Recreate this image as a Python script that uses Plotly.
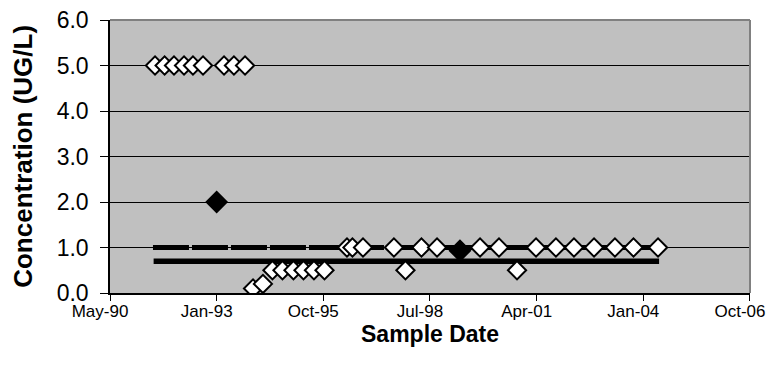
import plotly.graph_objects as go

# Non-detect / reported results (white diamonds)
white_dates = [
    "1991-07-03", "1991-10-01", "1991-12-28", "1992-03-31", "1992-06-23", "1992-09-25",
    "1993-04-10", "1993-07-12", "1993-10-24",
    "1994-01-07", "1994-04-10",
    "1994-07-08", "1994-10-10", "1995-01-21", "1995-04-25", "1995-08-01", "1995-11-08",
    "1996-06-06", "1996-07-27", "1996-11-03", "1997-08-20", "1997-12-06",
    "1998-05-05", "1998-09-28", "1999-11-05", "2000-05-01", "2000-10-17",
    "2001-04-13", "2001-10-17", "2002-04-04", "2002-10-09", "2003-04-23", "2003-10-14",
    "2004-05-31",
]
white_values = [
    5.0, 5.0, 5.0, 5.0, 5.0, 5.0,
    5.0, 5.0, 5.0,
    0.1, 0.2,
    0.5, 0.5, 0.5, 0.5, 0.5, 0.5,
    1.0, 1.0, 1.0, 1.0, 0.5,
    1.0, 1.0, 1.0, 1.0, 0.5,
    1.0, 1.0, 1.0, 1.0, 1.0, 1.0,
    1.0,
]

# Detections (black diamonds)
black_dates = ["1993-01-31", "1999-05-01"]
black_values = [2.0, 0.93]

# Reference lines
dashed_dates = ["1991-06-14", "2004-05-31"]
dashed_values = [1.0, 1.0]
solid_dates = ["1991-06-20", "2004-06-10"]
solid_values = [0.7, 0.7]

x_tick0 = "1990-05-07"
x_range = ["1990-05-07", "2006-10-10 06:00"]
day_ms = 86400000

fig = go.Figure()
fig.add_trace(go.Scatter(x=solid_dates, y=solid_values, mode="lines",
                         line=dict(color="black", width=5.5), showlegend=False))
fig.add_trace(go.Scatter(x=dashed_dates, y=dashed_values, mode="lines",
                         line=dict(color="black", width=5, dash="36px,3px"), showlegend=False))
fig.add_trace(go.Scatter(x=black_dates, y=black_values, mode="markers",
                         marker=dict(symbol="diamond", size=16, color="black",
                                     line=dict(color="black", width=1.5)), showlegend=False))
fig.add_trace(go.Scatter(x=white_dates, y=white_values, mode="markers",
                         marker=dict(symbol="diamond", size=14, color="white",
                                     line=dict(color="black", width=2)), showlegend=False))

fig.update_layout(
    width=780, height=377,
    margin=dict(l=110, r=30, t=20, b=84),
    paper_bgcolor="white", plot_bgcolor="#C0C0C0",
    font=dict(family="Liberation Sans, Arial, sans-serif", color="black"),
    showlegend=False,
)
fig.update_xaxes(
    type="date", range=x_range, tick0=x_tick0, dtick=1000 * day_ms,
    tickformat="%b-%y", showgrid=False, zeroline=False, automargin=False,
    showline=True, linecolor="black", linewidth=1.5,
    ticks="outside", ticklen=6, tickcolor="black",
    ticklabelstandoff=-4, ticklabelshift=-10, ticklabeloverflow="allow",
    tickfont=dict(size=17),
)
fig.update_yaxes(
    range=[0, 6], dtick=1, tickformat=".1f", automargin=False,
    showgrid=True, gridcolor="black", gridwidth=1, zeroline=False,
    showline=True, linecolor="black", linewidth=1.5,
    ticks="outside", ticklen=8, tickcolor="black", ticklabelstandoff=7,
    ticklabeloverflow="allow",
    tickfont=dict(size=23),
)
# gray frame on top and right of plot area
fig.add_shape(type="line", xref="paper", yref="paper", x0=0, x1=1, y0=1, y1=1,
              line=dict(color="#808080", width=2))
fig.add_shape(type="line", xref="paper", yref="paper", x0=1, x1=1, y0=0, y1=1,
              line=dict(color="#808080", width=2))

fig.add_annotation(text="<b>Concentration (UG/L)</b>", xref="paper", yref="paper",
                   x=-0.137, y=0.5, xanchor="center", yanchor="middle", textangle=-90,
                   showarrow=False, font=dict(size=26))
fig.add_annotation(text="<b>Sample Date</b>", xref="paper", yref="paper",
                   x=0.5, y=-0.097, xanchor="center", yanchor="top",
                   showarrow=False, font=dict(size=23))

fig.write_html("out.html", config={"displayModeBar": False},
               post_script="document.body.style.margin='0';document.body.style.overflow='hidden';")
